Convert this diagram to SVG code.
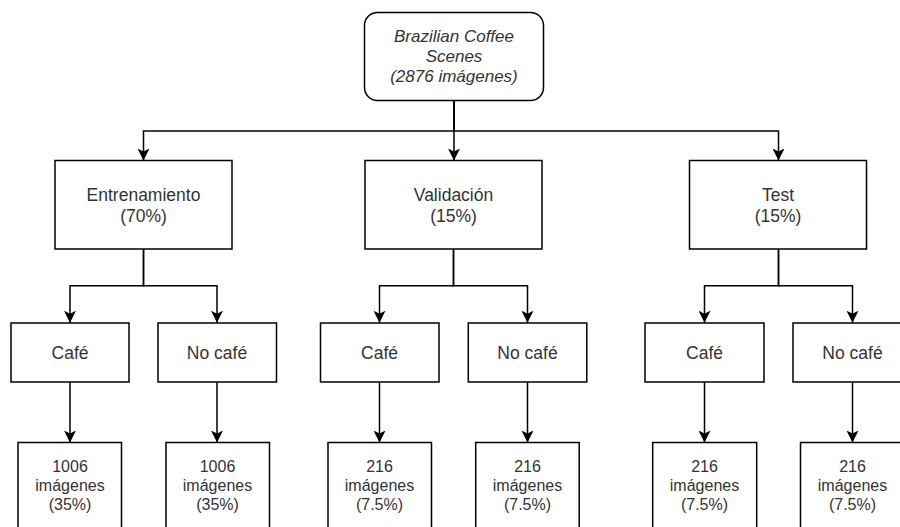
<svg xmlns="http://www.w3.org/2000/svg" width="900" height="527" viewBox="0 0 900 527">
  <defs>
    <style>
      .box { fill: #ffffff; stroke: #000000; stroke-width: 1.5; }
      .edge { fill: none; stroke: #000000; stroke-width: 1.5; }
      .t { font-family: "Liberation Sans", Arial, Helvetica, sans-serif; fill: #333333; text-anchor: middle; }
      .top { font-size: 17px; font-style: italic; }
      .mid { font-size: 17.5px; }
      .leaf { font-size: 16px; }
    </style>
    <marker id="arrow" markerUnits="userSpaceOnUse" markerWidth="12" markerHeight="12" refX="10" refY="5" orient="auto" viewBox="0 0 10 10">
      <path d="M0,0 L10,5 L0,10 L2.5,5 Z" fill="#000000"/>
    </marker>
  </defs>

  <rect width="900" height="527" fill="#ffffff"/>

  <!-- connectors -->
  <g id="edges">
    <path class="edge" d="M454,101 V131 H143.5 V160.5" marker-end="url(#arrow)"/>
    <path class="edge" d="M454,101 V160.5" marker-end="url(#arrow)"/>
    <path class="edge" d="M454,101 V131 H778.5 V160.5" marker-end="url(#arrow)"/>

    <path class="edge" d="M143.5,249 V285.7 H70 V322.7" marker-end="url(#arrow)"/>
    <path class="edge" d="M143.5,249 V285.7 H217 V322.7" marker-end="url(#arrow)"/>
    <path class="edge" d="M453.5,249 V285.7 H379.5 V322.7" marker-end="url(#arrow)"/>
    <path class="edge" d="M453.5,249 V285.7 H527.5 V322.7" marker-end="url(#arrow)"/>
    <path class="edge" d="M778.5,249 V285.7 H704.5 V322.7" marker-end="url(#arrow)"/>
    <path class="edge" d="M778.5,249 V285.7 H852.5 V322.7" marker-end="url(#arrow)"/>

    <path class="edge" d="M70,382 V442.5" marker-end="url(#arrow)"/>
    <path class="edge" d="M217,382 V442.5" marker-end="url(#arrow)"/>
    <path class="edge" d="M379.5,382 V442.5" marker-end="url(#arrow)"/>
    <path class="edge" d="M527.5,382 V442.5" marker-end="url(#arrow)"/>
    <path class="edge" d="M704.5,382 V442.5" marker-end="url(#arrow)"/>
    <path class="edge" d="M852.5,382 V442.5" marker-end="url(#arrow)"/>
  </g>

  <!-- root -->
  <g id="dataset">
    <rect class="box" x="364.5" y="12.5" width="179" height="88" rx="13" ry="13"/>
    <text class="t top" x="454" y="41.5">Brazilian Coffee</text>
    <text class="t top" x="454" y="61.5">Scenes</text>
    <text class="t top" x="454" y="81.5">(2876 imágenes)</text>
  </g>

  <!-- splits -->
  <g id="entrenamiento">
    <rect class="box" x="55" y="160.5" width="177" height="88.5"/>
    <text class="t mid" x="143.5" y="200.5">Entrenamiento</text>
    <text class="t mid" x="143.5" y="222">(70%)</text>
  </g>
  <g id="validacion">
    <rect class="box" x="365" y="160.5" width="177" height="88.5"/>
    <text class="t mid" x="453.5" y="200.5">Validación</text>
    <text class="t mid" x="453.5" y="222">(15%)</text>
  </g>
  <g id="test">
    <rect class="box" x="689.5" y="160.5" width="177" height="88.5"/>
    <text class="t mid" x="778" y="200.5">Test</text>
    <text class="t mid" x="778" y="222">(15%)</text>
  </g>

  <!-- classes -->
  <g id="entrenamiento-cafe">
    <rect class="box" x="11" y="323" width="118" height="59"/>
    <text class="t mid" x="70" y="358.5">Café</text>
  </g>
  <g id="entrenamiento-nocafe">
    <rect class="box" x="158" y="323" width="118.5" height="59"/>
    <text class="t mid" x="217" y="358.5">No café</text>
  </g>
  <g id="validacion-cafe">
    <rect class="box" x="320.5" y="323" width="118.5" height="59"/>
    <text class="t mid" x="379.5" y="358.5">Café</text>
  </g>
  <g id="validacion-nocafe">
    <rect class="box" x="468.3" y="323" width="118.5" height="59"/>
    <text class="t mid" x="527.5" y="358.5">No café</text>
  </g>
  <g id="test-cafe">
    <rect class="box" x="645" y="323" width="119" height="59"/>
    <text class="t mid" x="704.5" y="358.5">Café</text>
  </g>
  <g id="test-nocafe">
    <rect class="box" x="793" y="323" width="119" height="59"/>
    <text class="t mid" x="852.5" y="358.5">No café</text>
  </g>

  <!-- counts -->
  <g id="entrenamiento-cafe-n">
    <rect class="box" x="18" y="442.5" width="103.5" height="100"/>
    <text class="t leaf" x="70" y="472">1006</text>
    <text class="t leaf" x="70" y="491">imágenes</text>
    <text class="t leaf" x="70" y="510">(35%)</text>
  </g>
  <g id="entrenamiento-nocafe-n">
    <rect class="box" x="166" y="442.5" width="103.5" height="100"/>
    <text class="t leaf" x="217.5" y="472">1006</text>
    <text class="t leaf" x="217.5" y="491">imágenes</text>
    <text class="t leaf" x="217.5" y="510">(35%)</text>
  </g>
  <g id="validacion-cafe-n">
    <rect class="box" x="328" y="442.5" width="103.5" height="100"/>
    <text class="t leaf" x="379.5" y="472">216</text>
    <text class="t leaf" x="379.5" y="491">imágenes</text>
    <text class="t leaf" x="379.5" y="510">(7.5%)</text>
  </g>
  <g id="validacion-nocafe-n">
    <rect class="box" x="475.7" y="442.5" width="103.5" height="100"/>
    <text class="t leaf" x="527.5" y="472">216</text>
    <text class="t leaf" x="527.5" y="491">imágenes</text>
    <text class="t leaf" x="527.5" y="510">(7.5%)</text>
  </g>
  <g id="test-cafe-n">
    <rect class="box" x="652.7" y="442.5" width="104" height="100"/>
    <text class="t leaf" x="704.5" y="472">216</text>
    <text class="t leaf" x="704.5" y="491">imágenes</text>
    <text class="t leaf" x="704.5" y="510">(7.5%)</text>
  </g>
  <g id="test-nocafe-n">
    <rect class="box" x="800.5" y="442.5" width="104" height="100"/>
    <text class="t leaf" x="852.5" y="472">216</text>
    <text class="t leaf" x="852.5" y="491">imágenes</text>
    <text class="t leaf" x="852.5" y="510">(7.5%)</text>
  </g>
</svg>
